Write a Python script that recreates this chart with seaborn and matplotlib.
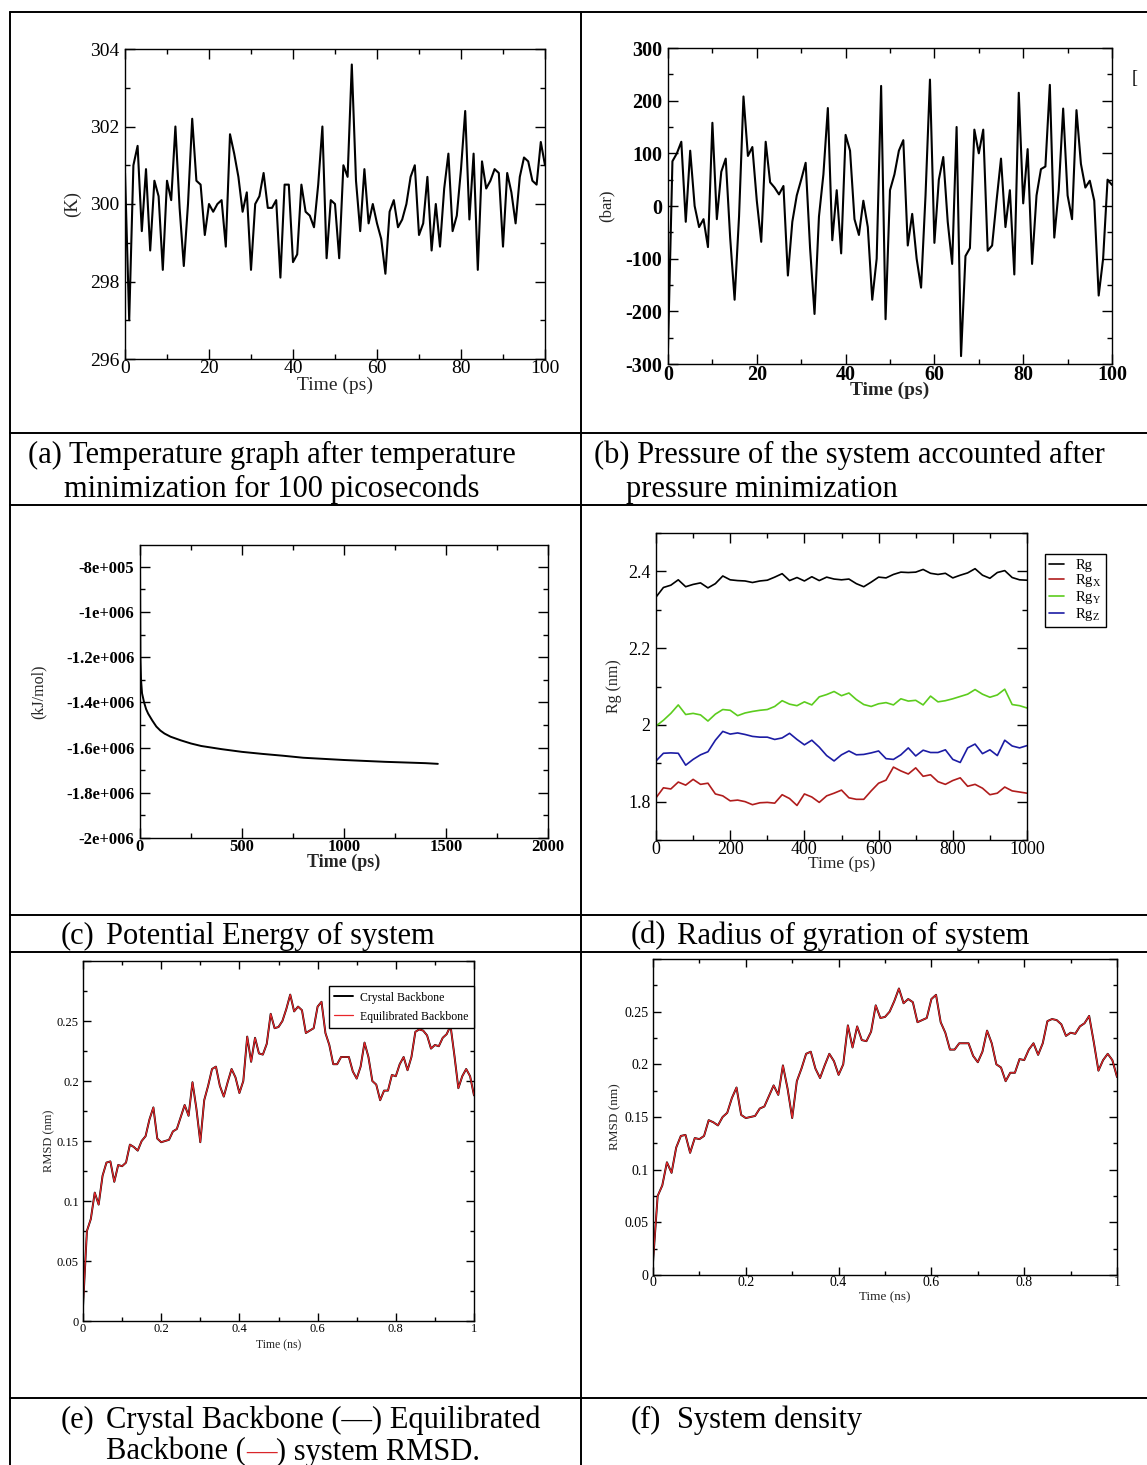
import numpy as np
import pandas as pd
import matplotlib
matplotlib.use("Agg")
import matplotlib.pyplot as plt
from matplotlib.lines import Line2D
from matplotlib.ticker import MultipleLocator, FixedLocator, FixedFormatter
import seaborn as sns

# ── Data ────────────────────────────────────────────────────────────────────
time_ps = np.arange(0, 101)          # 1 ps frames, panels (a) and (b)

temperature = [300.8, 297.0, 301.0, 301.5, 299.3, 300.9, 298.8, 300.6, 300.2, 298.3,
               300.6, 300.1, 302.0, 299.9, 298.4, 300.0, 302.2, 300.6, 300.5, 299.2,
               300.0, 299.8, 300.0, 300.1, 298.9, 301.8, 301.3, 300.7, 299.8, 300.3,
               298.3, 300.0, 300.2, 300.8, 299.9, 299.9, 300.1, 298.1, 300.5, 300.5,
               298.5, 298.7, 300.5, 299.8, 299.7, 299.4, 300.5, 302.0, 298.6, 300.1,
               300.0, 298.6, 301.0, 300.7, 303.6, 300.6, 299.3, 300.9, 299.5, 300.0,
               299.5, 299.1, 298.2, 299.8, 300.1, 299.4, 299.6, 300.0, 300.7, 301.0,
               299.2, 299.5, 300.7, 298.8, 300.0, 298.9, 300.4, 301.3, 299.3, 299.7,
               300.9, 302.4, 299.6, 301.3, 298.3, 301.1, 300.4, 300.6, 300.9, 300.8,
               298.9, 300.8, 300.3, 299.5, 300.7, 301.2, 301.1, 300.6, 300.5, 301.6, 301.0]

pressure = [-270, 85, 100, 122, -30, 105, 0, -40, -25, -78,
            158, -25, 65, 90, -60, -178, -20, 208, 95, 112,
            10, -68, 122, 45, 35, 22, 38, -132, -30, 20,
            50, 82, -80, -205, -20, 60, 186, -65, 30, -90,
            135, 105, -25, -55, 10, -40, -178, -100, 228, -215,
            30, 60, 105, 125, -75, -15, -100, -155, 20, 240,
            -70, 50, 93, -30, -110, 150, -285, -95, -80, 145,
            100, 145, -85, -75, 10, 90, -40, 30, -130, 215,
            5, 108, -110, 20, 70, 75, 230, -60, 30, 185,
            20, -25, 182, 80, 35, 48, 10, -170, -100, 50, 40]

energy_time = [0, 2, 5, 10, 20, 30, 40, 60, 80, 100, 120, 150, 200, 250, 300, 400,
               500, 600, 700, 800, 900, 1000, 1100, 1200, 1300, 1400, 1460]
energy = [-7.9e5, -1.2e6, -1.3e6, -1.36e6, -1.40e6, -1.43e6, -1.45e6, -1.48e6,
          -1.507e6, -1.525e6, -1.538e6, -1.552e6, -1.568e6, -1.582e6, -1.593e6,
          -1.607e6, -1.619e6, -1.628e6, -1.636e6, -1.645e6, -1.650e6, -1.655e6,
          -1.659e6, -1.663e6, -1.666e6, -1.669e6, -1.672e6]
energy_ticks = [-8e5, -1e6, -1.2e6, -1.4e6, -1.6e6, -1.8e6, -2e6]
energy_labels = ["-8e+005", "-1e+006", "-1.2e+006", "-1.4e+006",
                 "-1.6e+006", "-1.8e+006", "-2e+006"]

rg_time = np.arange(0, 1001, 20)
rg = [2.333, 2.358, 2.364, 2.378, 2.360, 2.366, 2.370, 2.357, 2.368, 2.388,
      2.378, 2.376, 2.375, 2.371, 2.375, 2.377, 2.385, 2.394, 2.376, 2.384,
      2.375, 2.386, 2.376, 2.385, 2.380, 2.378, 2.380, 2.368, 2.360, 2.372,
      2.385, 2.383, 2.392, 2.398, 2.397, 2.398, 2.405, 2.395, 2.392, 2.395,
      2.383, 2.390, 2.396, 2.407, 2.390, 2.382, 2.397, 2.402, 2.384, 2.378, 2.377]
rg_x = [1.810, 1.836, 1.833, 1.851, 1.843, 1.858, 1.845, 1.848, 1.820, 1.815,
        1.802, 1.804, 1.800, 1.792, 1.797, 1.798, 1.796, 1.818, 1.808, 1.790,
        1.820, 1.812, 1.798, 1.815, 1.822, 1.830, 1.810, 1.806, 1.806, 1.828,
        1.848, 1.856, 1.890, 1.880, 1.872, 1.888, 1.866, 1.870, 1.852, 1.845,
        1.855, 1.862, 1.840, 1.845, 1.835, 1.818, 1.822, 1.838, 1.828, 1.825, 1.822]
rg_y = [1.997, 2.012, 2.030, 2.052, 2.027, 2.030, 2.026, 2.010, 2.028, 2.040,
        2.038, 2.024, 2.031, 2.035, 2.038, 2.040, 2.048, 2.063, 2.054, 2.050,
        2.060, 2.052, 2.073, 2.079, 2.087, 2.076, 2.083, 2.066, 2.053, 2.048,
        2.055, 2.058, 2.052, 2.068, 2.062, 2.064, 2.052, 2.075, 2.060, 2.063,
        2.068, 2.074, 2.080, 2.092, 2.080, 2.072, 2.078, 2.093, 2.053, 2.050, 2.044]
rg_z = [1.906, 1.926, 1.927, 1.926, 1.895, 1.910, 1.922, 1.930, 1.960, 1.983,
        1.976, 1.979, 1.975, 1.970, 1.968, 1.968, 1.962, 1.966, 1.978, 1.962,
        1.948, 1.960, 1.942, 1.920, 1.906, 1.922, 1.932, 1.922, 1.923, 1.927,
        1.932, 1.912, 1.910, 1.922, 1.940, 1.919, 1.934, 1.928, 1.928, 1.935,
        1.910, 1.902, 1.940, 1.950, 1.925, 1.935, 1.920, 1.960, 1.945, 1.940, 1.946]

rmsd_time = np.round(np.arange(0, 101) * 0.01, 2)   # ns
rmsd_crystal = [0.012, 0.075, 0.085, 0.107, 0.097, 0.121, 0.132, 0.133, 0.116, 0.130,
                0.129, 0.132, 0.147, 0.145, 0.142, 0.150, 0.154, 0.168, 0.178, 0.152,
                0.149, 0.150, 0.151, 0.158, 0.160, 0.170, 0.180, 0.171, 0.199, 0.177,
                0.149, 0.184, 0.196, 0.210, 0.212, 0.196, 0.187, 0.199, 0.210, 0.203,
                0.190, 0.200, 0.237, 0.216, 0.236, 0.223, 0.222, 0.231, 0.256, 0.244,
                0.245, 0.250, 0.260, 0.272, 0.258, 0.262, 0.259, 0.240, 0.242, 0.244,
                0.262, 0.266, 0.240, 0.230, 0.214, 0.214, 0.220, 0.220, 0.220, 0.208,
                0.202, 0.212, 0.232, 0.220, 0.200, 0.197, 0.184, 0.192, 0.192, 0.205,
                0.204, 0.214, 0.220, 0.209, 0.220, 0.241, 0.243, 0.242, 0.238, 0.227,
                0.230, 0.229, 0.236, 0.239, 0.246, 0.221, 0.194, 0.204, 0.210, 0.204, 0.188]
rmsd_equil = list(rmsd_crystal)      # the two curves overlap in the figure

# ── Style ───────────────────────────────────────────────────────────────────
sns.set_theme(style="ticks")
plt.rcParams["font.family"] = ["Liberation Serif", "DejaVu Serif"]
plt.rcParams["mathtext.fontset"] = "custom"
plt.rcParams["mathtext.rm"] = "Liberation Serif"
plt.rcParams["axes.unicode_minus"] = False
plt.rcParams["axes.edgecolor"] = "black"
plt.rcParams["xtick.color"] = "black"
plt.rcParams["ytick.color"] = "black"
plt.rcParams["text.color"] = "black"

W, H = 1147, 1465
fig = plt.figure(figsize=(W / 100, H / 100), dpi=100)


def box(l, t, r, b):
    return [l / W, 1 - b / H, (r - l) / W, (b - t) / H]


def fx(x):
    return x / W


def fy(y):
    return 1 - y / H


def grace(ax, xmaj, xmin, ymaj, ymin, size, weight="normal", majlen=7, minlen=3.5,
          xpad=0.5, ypad=4):
    ax.xaxis.set_major_locator(MultipleLocator(xmaj))
    ax.xaxis.set_minor_locator(MultipleLocator(xmin))
    if ymaj is not None:
        ax.yaxis.set_major_locator(MultipleLocator(ymaj))
    ax.yaxis.set_minor_locator(MultipleLocator(ymin))
    ax.tick_params(which="both", direction="in", top=True, right=True,
                   width=1, labelsize=size)
    ax.tick_params(axis="x", pad=xpad)
    ax.tick_params(axis="y", pad=ypad)
    ax.tick_params(which="major", length=majlen)
    ax.tick_params(which="minor", length=minlen)
    for s in ax.spines.values():
        s.set_linewidth(1)
        s.set_color("black")
    for lab in ax.get_xticklabels() + ax.get_yticklabels():
        lab.set_fontweight(weight)


# ── (a) temperature ────────────────────────────────────────────────────────
ax = fig.add_axes(box(125, 49, 545, 359))
sns.lineplot(x=time_ps, y=temperature, ax=ax, color="black", linewidth=1.5)
ax.set_xlim(0, 100)
ax.set_ylim(296, 304)
grace(ax, 20, 10, 2, 1, 14)
ax.set_xlabel("Time (ps)", fontsize=14)
ax.set_ylabel("(K)", fontsize=13.5)
ax.yaxis.set_label_coords(-0.105, 0.5)
ax.xaxis.set_label_coords(0.5, -0.056)

# ── (b) pressure ───────────────────────────────────────────────────────────
ax = fig.add_axes(box(668, 48, 1112, 364))
sns.lineplot(x=time_ps, y=pressure, ax=ax, color="black", linewidth=1.5)
ax.set_xlim(0, 100)
ax.set_ylim(-300, 300)
grace(ax, 20, 10, 100, 50, 14.5, weight="bold")
ax.set_xlabel("Time (ps)", fontsize=14, fontweight="bold")
ax.set_ylabel("(bar)", fontsize=12)
ax.yaxis.set_label_coords(-0.121, 0.5)
ax.xaxis.set_label_coords(0.5, -0.056)

# ── (c) potential energy ───────────────────────────────────────────────────
ax = fig.add_axes(box(140, 545, 548, 838))
sns.lineplot(x=energy_time, y=energy, ax=ax, color="black", linewidth=1.4)
ax.set_xlim(0, 2000)
ax.set_ylim(-2e6, -7.04e5)
ax.yaxis.set_major_locator(FixedLocator(energy_ticks))
ax.yaxis.set_major_formatter(FixedFormatter(energy_labels))
grace(ax, 500, 250, None, 1e5, 12, weight="bold")
ax.set_xlabel("Time (ps)", fontsize=13, fontweight="bold")
ax.set_ylabel("(kJ/mol)", fontsize=11.5)
ax.yaxis.set_label_coords(-0.23, 0.5)
ax.xaxis.set_label_coords(0.5, -0.052)

# ── (d) radius of gyration ─────────────────────────────────────────────────
ax = fig.add_axes(box(656, 533, 1027, 840))
sns.lineplot(x=rg_time, y=rg, ax=ax, color="black", linewidth=1.2, label="Rg")
sns.lineplot(x=rg_time, y=rg_x, ax=ax, color="#b01c1c", linewidth=1.2, label=r"Rg$_{\rm X}$")
sns.lineplot(x=rg_time, y=rg_y, ax=ax, color="#5ccc1e", linewidth=1.2, label=r"Rg$_{\rm Y}$")
sns.lineplot(x=rg_time, y=rg_z, ax=ax, color="#1c1ca4", linewidth=1.2, label=r"Rg$_{\rm Z}$")
ax.set_xlim(0, 1000)
ax.set_ylim(1.7, 2.5)
grace(ax, 200, 100, 0.2, 0.1, 13)
ax.yaxis.set_major_formatter(FixedFormatter(["", "1.8", "2", "2.2", "2.4", ""]))
ax.yaxis.set_major_locator(FixedLocator([1.6, 1.8, 2.0, 2.2, 2.4, 2.6]))
ax.set_xlabel("Time (ps)", fontsize=12.5)
ax.set_ylabel("Rg (nm)", fontsize=11.5)
ax.yaxis.set_label_coords(-0.092, 0.5)
ax.xaxis.set_label_coords(0.5, -0.053)
leg = ax.legend(loc="upper left", bbox_to_anchor=(1.048, 0.93), fontsize=10.5,
                frameon=True, fancybox=False, edgecolor="black", framealpha=1,
                handlelength=1.0, handletextpad=0.8, borderpad=0.3,
                labelspacing=0.0, borderaxespad=0)
leg.get_frame().set_linewidth(1)

# ── (e) RMSD with legend ───────────────────────────────────────────────────
ax = fig.add_axes(box(83, 961, 474, 1321))
sns.lineplot(x=rmsd_time, y=rmsd_crystal, ax=ax, color="black", linewidth=1.4,
             label="Crystal Backbone")
sns.lineplot(x=rmsd_time, y=rmsd_equil, ax=ax, color="#e8262a", linewidth=0.9,
             label="Equilibrated Backbone")
ax.set_xlim(0, 1)
ax.set_ylim(0, 0.3)
grace(ax, 0.2, 0.1, 0.05, 0.025, 9, majlen=6, minlen=3, xpad=1.5, ypad=3)
ax.xaxis.set_major_formatter(FixedFormatter(["0", "0.2", "0.4", "0.6", "0.8", "1"]))
ax.xaxis.set_major_locator(FixedLocator([0, 0.2, 0.4, 0.6, 0.8, 1.0]))
ax.yaxis.set_major_formatter(FixedFormatter(["0", "0.05", "0.1", "0.15", "0.2", "0.25", ""]))
ax.yaxis.set_major_locator(FixedLocator([0, 0.05, 0.1, 0.15, 0.2, 0.25, 0.3]))
ax.set_xlabel("Time (ns)", fontsize=8.5)
ax.set_ylabel("RMSD (nm)", fontsize=9)
ax.yaxis.set_label_coords(-0.072, 0.5)
ax.xaxis.set_label_coords(0.5, -0.05)
leg = ax.legend(loc="upper right", bbox_to_anchor=(1.0, 0.93), fontsize=8.5,
                frameon=True, fancybox=False, edgecolor="black", framealpha=1,
                handlelength=1.6, handletextpad=0.6, borderpad=0.45,
                labelspacing=0.6, borderaxespad=0)
leg.get_frame().set_linewidth(1)

# ── (f) RMSD, system density panel ─────────────────────────────────────────
ax = fig.add_axes(box(653, 959, 1117, 1275))
sns.lineplot(x=rmsd_time, y=rmsd_crystal, ax=ax, color="black", linewidth=1.4, legend=False)
sns.lineplot(x=rmsd_time, y=rmsd_equil, ax=ax, color="#e8262a", linewidth=0.9, legend=False)
ax.set_xlim(0, 1)
ax.set_ylim(0, 0.3)
grace(ax, 0.2, 0.1, 0.05, 0.025, 10, majlen=6, minlen=3, xpad=1, ypad=3)
ax.xaxis.set_major_formatter(FixedFormatter(["0", "0.2", "0.4", "0.6", "0.8", "1"]))
ax.xaxis.set_major_locator(FixedLocator([0, 0.2, 0.4, 0.6, 0.8, 1.0]))
ax.yaxis.set_major_formatter(FixedFormatter(["0", "0.05", "0.1", "0.15", "0.2", "0.25", ""]))
ax.yaxis.set_major_locator(FixedLocator([0, 0.05, 0.1, 0.15, 0.2, 0.25, 0.3]))
ax.set_xlabel("Time (ns)", fontsize=9.5)
ax.set_ylabel("RMSD (nm)", fontsize=9.5)
ax.yaxis.set_label_coords(-0.068, 0.5)
ax.xaxis.set_label_coords(0.5, -0.05)

# ── Table frame ─────────────────────────────────────────────────────────────
frame = dict(color="black", linewidth=1.4, transform=fig.transFigure)
fig.add_artist(Line2D([fx(10), fx(10)], [fy(12), fy(1465)], **frame))
fig.add_artist(Line2D([fx(581), fx(581)], [fy(12), fy(1465)], **frame))
for yy in [12, 433, 505, 915, 952, 1398]:
    fig.add_artist(Line2D([fx(10), fx(1147)], [fy(yy), fy(yy)], **frame))

# stray bracket to the right of panel (b)
fig.text(fx(1132), fy(79), "[", fontsize=13, va="center")

# ── Captions ────────────────────────────────────────────────────────────────
cap = dict(fontsize=22, va="center", ha="left")
fig.text(fx(28), fy(455), "(a) Temperature graph after temperature", **cap)
fig.text(fx(64), fy(489), "minimization for 100 picoseconds", **cap)
fig.text(fx(594), fy(455), "(b) Pressure of the system accounted after", **cap)
fig.text(fx(626), fy(489), "pressure minimization", **cap)
fig.text(fx(61), fy(936), "(c)", **cap)
fig.text(fx(106), fy(936), "Potential Energy of system", **cap)
fig.text(fx(631), fy(936), "(d)", **cap)
fig.text(fx(677), fy(936), "Radius of gyration of system", **cap)
fig.text(fx(61), fy(1420), "(e)", **cap)
fig.text(fx(106), fy(1420), "Crystal Backbone (\u2014) Equilibrated", **cap)
fig.text(fx(631), fy(1420), "(f)", **cap)
fig.text(fx(677), fy(1420), "System density", **cap)

renderer = fig.canvas.get_renderer()
t1 = fig.text(fx(106), fy(1452), "Backbone (", **cap)
x1 = t1.get_window_extent(renderer).x1
t2 = fig.text(x1 / W, fy(1452), "\u2014", color="#d9262a", **cap)
x2 = t2.get_window_extent(renderer).x1
fig.text(x2 / W, fy(1452), ") system RMSD.", **cap)

fig.savefig("out.png", dpi=100, facecolor="white")
